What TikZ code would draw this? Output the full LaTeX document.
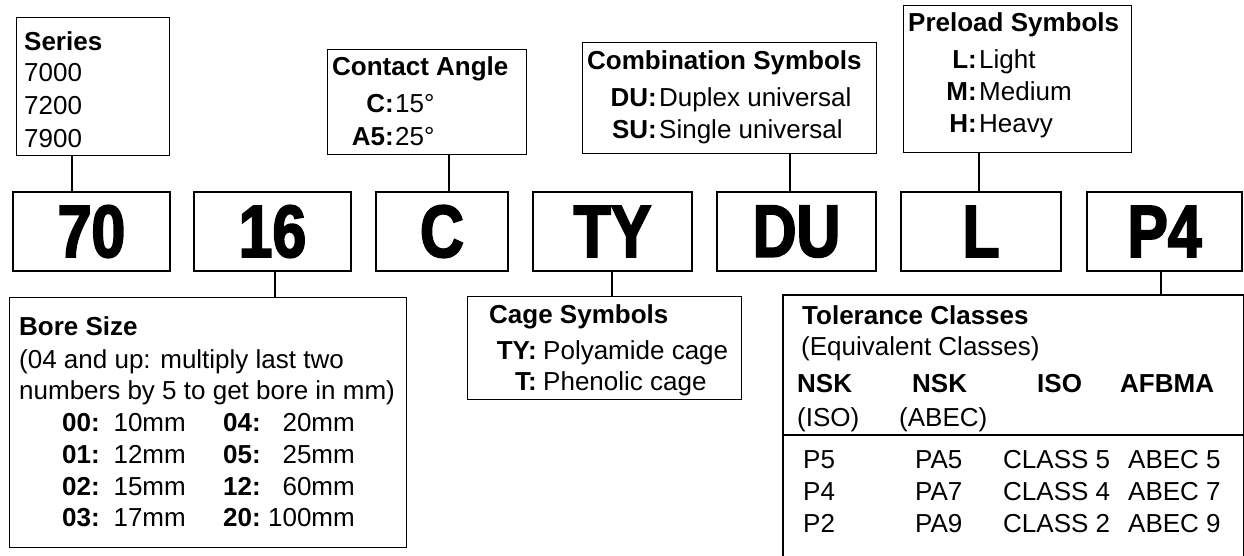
\documentclass[tikz,border=0pt]{standalone}
\usepackage{fontspec}
\setmainfont{Liberation Sans}
\newfontfamily\codefont[FakeStretch=0.82,FakeBold=2.5]{Liberation Sans Bold}
\tikzset{
    codebox/.style={draw, line width=2.6pt, inner sep=0pt, minimum height=79pt,
        font=\codefont\fontsize{74}{74}\selectfont},
    infobox/.style={draw, line width=1.4pt, inner sep=0pt, anchor=north west},
    txt/.style={anchor=base west, inner sep=0pt},
    txtr/.style={anchor=base east, inner sep=0pt},
    link/.style={line width=1.2pt},
}
\begin{document}
\begin{tikzpicture}[x=1pt, y=-1pt, font=\fontsize{26}{30}\selectfont]
            \useasboundingbox (0,0) rectangle (1244,556);

            % code boxes
            \begin{scope}[every node/.style={codebox}]
                \node[minimum width=157pt] (c1) at (91.5,231.5) {70};
                \node[minimum width=157pt] (c2) at (272.5,231.5) {16};
                \node[minimum width=132pt] (c3) at (442,231.5) {C};
                \node[minimum width=159pt] (c4) at (612.5,231.5) {TY};
                \node[minimum width=159pt] (c5) at (796.5,231.5) {DU};
                \node[minimum width=160pt] (c6) at (981,231.5) {L};
                \node[minimum width=155pt] (c7) at (1164.5,231.5) {P4};
            \end{scope}

            % info boxes
            \begin{scope}[every node/.style={infobox}]
                \node[minimum width=153pt, minimum height=138pt] (ser) at (16,17) {};
                \node[minimum width=199pt, minimum height=105pt] (ang) at (327,49) {};
                \node[minimum width=294pt, minimum height=111pt] (comb) at (582,42) {};
                \node[minimum width=228pt, minimum height=147pt] (pre) at (903,5) {};
                \node[minimum width=397pt, minimum height=250pt] (bore) at (9,297) {};
                \node[minimum width=274pt, minimum height=103pt] (cage) at (467,296) {};
                \node[draw=none, minimum width=459pt, minimum height=280pt] (tol) at (783,295) {};
            \end{scope}
            \draw[line width=1.4pt] (tol.south west) -- (tol.north west) -- (tol.north east) -- (tol.south east);
            \draw[line width=1.4pt] (tol.west |- 0,435) -- (tol.east |- 0,435);

            % connectors
            \begin{scope}[every edge/.style={draw, link}]
                \draw (ser.south -| 72,0) edge (c1.north -| 72,0);
                \draw (ang.south -| 449,0) edge (c3.north -| 449,0);
                \draw (comb.south -| 790,0) edge (c5.north -| 790,0);
                \draw (pre.south -| 979,0) edge (c6.north -| 979,0);
                \draw (c2.south -| 275,0) edge (bore.north -| 275,0);
                \draw (c4.south -| 612,0) edge (cage.north -| 612,0);
                \draw (c7.south -| 1161,0) edge (tol.north -| 1161,0);
            \end{scope}

            % series
            \node[txt] (s0) at (24,51) {\textbf{Series}};
            \node[txt] (s1) at (24,82) {7000};
            \node[txt] (s2) at (24,115) {7200};
            \node[txt] (s3) at (24,148) {7900};

            % contact angle
            \node[txt] (a0) at (332,76) {\textbf{Contact Angle}};
            \node[txtr] (a1) at (394,113) {\textbf{C:}};
            \node[txt] (a1v) at (395,113) {15°};
            \node[txtr] (a2) at (394,146) {\textbf{A5:}};
            \node[txt] (a2v) at (395,146) {25°};

            % combination symbols
            \node[txt] (m0) at (587,70) {\textbf{Combination Symbols}};
            \node[txtr] (m1) at (657,107) {\textbf{DU:}};
            \node[txt] (m1v) at (659,107) {Duplex universal};
            \node[txtr] (m2) at (657,139) {\textbf{SU:}};
            \node[txt] (m2v) at (659,139) {Single universal};

            % preload symbols
            \node[txt] (p0) at (908,32) {\textbf{Preload Symbols}};
            \node[txtr] (p1) at (977,69) {\textbf{L:}};
            \node[txt] (p1v) at (979,69) {Light};
            \node[txtr] (p2) at (977,101) {\textbf{M:}};
            \node[txt] (p2v) at (979,101) {Medium};
            \node[txtr] (p3) at (977,133) {\textbf{H:}};
            \node[txt] (p3v) at (979,133) {Heavy};

            % bore size
            \node[txt] (b0) at (19,335) {\textbf{Bore Size}};
            \node[txt] (b1) at (19,368) {(04 and up: multiply last two};
            \node[txt] (b2) at (19,399) {numbers by 5 to get bore in mm)};
            \foreach \a/\b/\c/\d [count=\i] in {00/10/04/20, 01/12/05/25, 02/15/12/60, 03/17/20/100} {
                \node[txt] (bl\i) at (62,400.3+31.6*\i) {\textbf{\a:}};
                \node[txtr] (bv\i) at (186,400.3+31.6*\i) {\b mm};
                \node[txt] (bk\i) at (223,400.3+31.6*\i) {\textbf{\c:}};
                \node[txtr] (bw\i) at (355,400.3+31.6*\i) {\d mm};
            }

            % cage symbols
            \node[txt] (g0) at (489,323) {\textbf{Cage Symbols}};
            \node[txtr] (g1) at (537,359) {\textbf{TY:}};
            \node[txt] (g1v) at (543,359) {Polyamide cage};
            \node[txtr] (g2) at (537,390) {\textbf{T:}};
            \node[txt] (g2v) at (543,390) {Phenolic cage};

            % tolerance classes
            \node[txt] (t0) at (802,324) {\textbf{Tolerance Classes}};
            \node[txt] (t1) at (801,355) {(Equivalent Classes)};
            \node[txt] (h1) at (797,392) {\textbf{NSK}};
            \node[txt] (h2) at (912,392) {\textbf{NSK}};
            \node[txt] (h3) at (1037,392) {\textbf{ISO}};
            \node[txt] (h4) at (1120,392) {\textbf{AFBMA}};
            \node[txt] (h5) at (797,426) {(ISO)};
            \node[txt] (h6) at (899,426) {(ABEC)};
            \foreach \p/\q/\r/\s [count=\i] in {P5/PA5/5/5, P4/PA7/4/7, P2/PA9/2/9} {
                \node[txt] (r\i a) at (803,436+32*\i) {\p};
                \node[txt] (r\i b) at (915,436+32*\i) {\q};
                \node[txt] (r\i c) at (1003,436+32*\i) {CLASS \r};
                \node[txt] (r\i d) at (1128,436+32*\i) {ABEC \s};
            }

        \end{tikzpicture}
\end{document}
